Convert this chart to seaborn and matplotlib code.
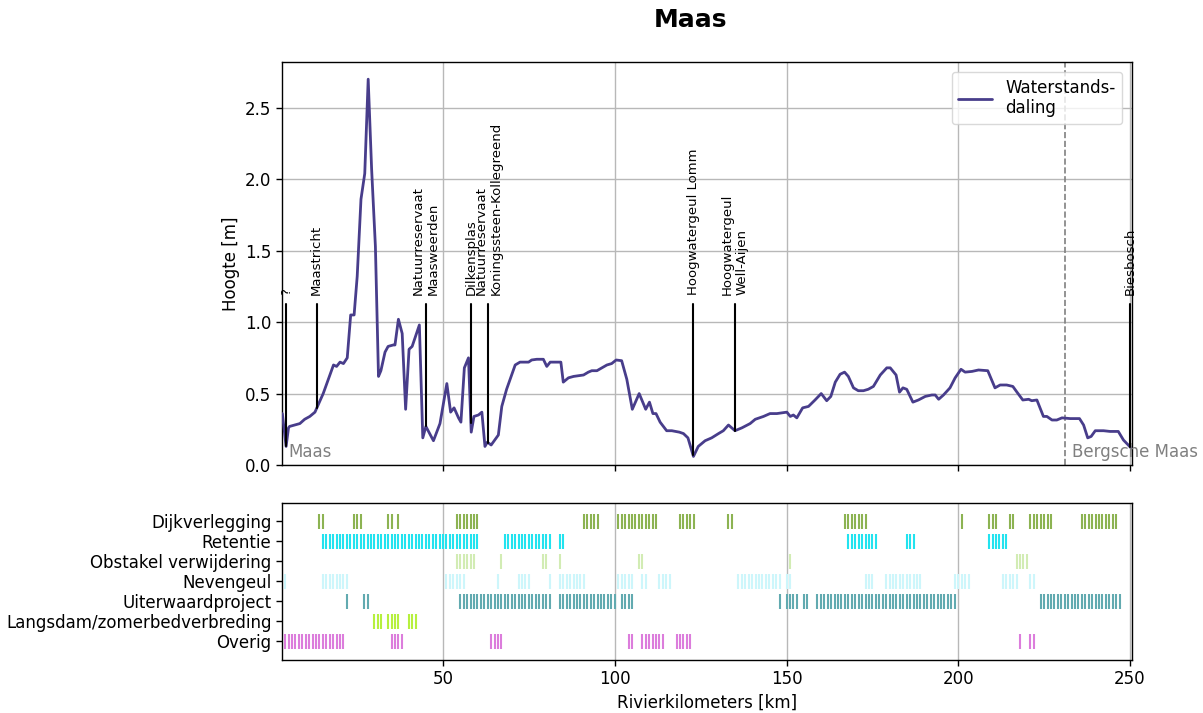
import numpy as np
import pandas as pd
import matplotlib
matplotlib.use("Agg")
import matplotlib.pyplot as plt
import seaborn as sns

# ---------------- data ----------------
river_km = [3.2, 4.3, 5.0, 5.3, 6.8, 8.3, 9.7, 11.2, 12.7, 15.1, 18.1, 19.0, 20.0, 21.0, 22.1,
            23.1, 24.1, 25.0, 26.1, 27.2, 28.2, 29.2, 30.3, 31.2, 31.9, 33.1, 34.0, 35.5, 36.0,
            37.0, 38.1, 39.1, 40.1, 41.0, 43.1, 44.1, 45.0, 47.2, 49.1, 51.1, 52.2, 53.2, 54.5,
            55.2, 56.2, 57.4, 58.2, 59.0, 60.3, 61.3, 62.2, 62.9, 64.0, 66.1, 67.1, 68.5, 71.0,
            72.4, 73.9, 74.9, 75.8, 77.3, 79.2, 80.2, 81.2, 84.3, 85.0, 86.5, 88.0, 90.9, 92.3,
            93.3, 94.8, 97.7, 99.1, 100.4, 102.0, 103.5, 105.1, 107.1, 109.0, 110.1, 111.1, 112.0,
            113.2, 115.1, 116.6, 118.8, 120.0, 121.3, 122.9, 124.3, 126.3, 128.2, 130.2, 131.6,
            133.1, 135.0, 137.0, 139.4, 140.9, 143.3, 145.2, 147.2, 150.1, 151.1, 152.0, 153.0,
            154.7, 156.4, 158.3, 160.1, 161.7, 162.9, 164.2, 165.6, 166.9, 168.0, 169.5, 170.9,
            172.4, 173.8, 175.3, 177.3, 179.2, 180.2, 181.9, 182.9, 183.9, 185.0, 186.8, 188.4,
            190.4, 192.3, 193.3, 194.3, 195.7, 197.6, 199.1, 200.8, 202.0, 204.0, 205.9, 208.6,
            209.3, 210.7, 212.2, 214.1, 215.9, 217.1, 218.8, 220.5, 221.4, 222.9, 224.8, 225.8,
            227.3, 228.7, 230.2, 232.6, 235.3, 236.5, 237.7, 238.7, 239.9, 242.3, 244.2, 246.6,
            248.1, 250.3]
water_drop = [0.36, 0.13, 0.26, 0.27, 0.28, 0.29, 0.32, 0.34, 0.37, 0.50, 0.70, 0.69, 0.72, 0.71, 0.75,
              1.05, 1.05, 1.32, 1.86, 2.04, 2.70, 2.07, 1.53, 0.62, 0.66, 0.79, 0.83, 0.84, 0.84,
              1.02, 0.92, 0.39, 0.81, 0.83, 0.98, 0.19, 0.27, 0.17, 0.29, 0.57, 0.37, 0.40, 0.33,
              0.30, 0.68, 0.75, 0.23, 0.34, 0.35, 0.37, 0.13, 0.16, 0.14, 0.21, 0.41, 0.53, 0.70,
              0.72, 0.72, 0.72, 0.735, 0.74, 0.74, 0.69, 0.72, 0.72, 0.58, 0.61, 0.62, 0.63, 0.65,
              0.66, 0.66, 0.70, 0.71, 0.735, 0.73, 0.60, 0.39, 0.50, 0.39, 0.44, 0.36, 0.36,
              0.30, 0.24, 0.24, 0.23, 0.22, 0.19, 0.06, 0.13, 0.17, 0.19, 0.22, 0.24,
              0.28, 0.24, 0.26, 0.29, 0.32, 0.34, 0.36, 0.36, 0.37, 0.34, 0.35, 0.33,
              0.40, 0.41, 0.455, 0.50, 0.45, 0.48, 0.58, 0.635, 0.65, 0.62, 0.54, 0.52,
              0.52, 0.53, 0.55, 0.63, 0.68, 0.68, 0.63, 0.51, 0.54, 0.53, 0.44, 0.455,
              0.48, 0.49, 0.49, 0.46, 0.49, 0.54, 0.61, 0.67, 0.65, 0.655, 0.665, 0.66,
              0.62, 0.54, 0.56, 0.56, 0.55, 0.51, 0.455, 0.46, 0.45, 0.455, 0.34, 0.34,
              0.315, 0.315, 0.33, 0.325, 0.325, 0.28, 0.19, 0.20, 0.24, 0.24, 0.235, 0.235,
              0.175, 0.12]

place_km = [4.3, 13.2, 45.0, 58.1, 63.2, 122.8, 135.0, 250.0]
place_names = ["?", "Maastricht", "Natuurreservaat\nMaasweerden", "Dilkensplas",
               "Natuurreservaat\nKoningssteen-Kollegreend", "Hoogwatergeul Lomm",
               "Hoogwatergeul\nWell-Aijen", "Biesbosch"]

measure_types = ["Dijkverlegging", "Retentie", "Obstakel verwijdering", "Nevengeul",
                 "Uiterwaardproject", "Langsdam/zomerbedverbreding", "Overig"]
measure_colors = ["#8cb352", "#22e3ef", "#d2ecb4", "#cdf6fb", "#62aab0", "#b6f03e", "#dc7ddc"]

# runs of river kilometres (first km, last km) per measure type
dijkverlegging_km = [(14, 15), (24, 26), (34, 35), (37, 37), (54, 60), (91, 95), (101, 112),
                     (119, 123), (133, 134), (167, 173), (201, 201), (209, 211), (215, 216),
                     (221, 227), (236, 246)]
retentie_km = [(15, 60), (68, 81), (84, 85), (168, 176), (185, 187), (209, 214)]
obstakel_km = [(54, 59), (67, 67), (79, 80), (84, 84), (107, 108), (151, 151), (217, 220)]
nevengeul_km = [(4, 4), (15, 22), (51, 56), (66, 66), (72, 75), (81, 81), (84, 91), (101, 105),
                (108, 109), (113, 116), (136, 148), (150, 151), (173, 175), (179, 189),
                (199, 203), (213, 217), (221, 222)]
uiterwaard_km = [(22, 22), (27, 28), (55, 81), (84, 100), (102, 105), (148, 148), (150, 153),
                 (155, 156), (159, 199), (224, 247)]
langsdam_km = [(30, 32), (34, 37), (40, 42)]
overig_km = [(4, 21), (35, 38), (64, 67), (104, 105), (108, 114), (118, 122), (218, 218),
             (221, 222)]
measure_runs = [dijkverlegging_km, retentie_km, obstakel_km, nevengeul_km, uiterwaard_km,
                langsdam_km, overig_km]

bergsche_start_km = 231.0

# ---------------- figure ----------------
sns.set_style("white")
plt.rcParams['font.family'] = ['DejaVu Sans']
plt.rcParams.update({"text.color": "black", "axes.labelcolor": "black",
                     "xtick.color": "black", "ytick.color": "black"})

fig = plt.figure(figsize=(12.03, 7.13), dpi=100)
ax1 = fig.add_axes([0.2344, 0.3478, 0.7066, 0.5652])
ax2 = fig.add_axes([0.2344, 0.0743, 0.7066, 0.2202], sharex=ax1)

for ax in (ax1, ax2):
    for s in ax.spines.values():
        s.set_color("black")
        s.set_linewidth(1.0)
    ax.tick_params(axis='both', which='both', direction='out', length=4, width=1,
                   color='black', labelcolor='black', labelsize=12, bottom=True, left=True)

# top panel
sns.lineplot(x=river_km, y=water_drop, ax=ax1, color="darkslateblue", linewidth=2,
             sort=False, label="Waterstands-\ndaling", zorder=3)
ax1.set_xlim(3.1, 250.6)
ax1.set_ylim(0, 2.82)
ax1.set_yticks([0.0, 0.5, 1.0, 1.5, 2.0, 2.5])
ax1.grid(True, color="#b8b8b8", linewidth=1.0)
ax1.set_axisbelow(True)
ax1.set_ylabel("Hoogte [m]", fontsize=12, color="black")
ax1.set_xlabel("")
plt.setp(ax1.get_xticklabels(), visible=False)

line_top = 1.13
for k, name in zip(place_km, place_names):
    y0 = float(np.interp(k, river_km, water_drop))
    ax1.plot([k, k], [y0, line_top], color="black", linewidth=1.5, zorder=4)
    ax1.text(k, line_top + 0.06, name, rotation=90, ha="center", va="bottom",
             fontsize=9.5, color="black", multialignment="left", clip_on=False, zorder=5)

ax1.axvline(bergsche_start_km, color="grey", linestyle="--", linewidth=1.2, zorder=2)
ax1.text(5.0, 0.03, "Maas", color="grey", fontsize=12, ha="left", va="bottom")
ax1.text(bergsche_start_km + 2.0, 0.03, "Bergsche Maas", color="grey", fontsize=12,
         ha="left", va="bottom", clip_on=False)

leg = ax1.legend(loc="upper right", fontsize=12, frameon=True, fancybox=True,
                 borderaxespad=0.6, handlelength=2.0)
leg.get_frame().set_edgecolor("#d0d0d0")
for t in leg.get_texts():
    t.set_color("black")

# bottom panel
rows = []
for name, runs in zip(measure_types, measure_runs):
    for a, b in runs:
        for k in range(a, b + 1):
            rows.append({"km": k, "type": name})
df = pd.DataFrame(rows)

sns.scatterplot(data=df, x="km", y="type", hue="type", hue_order=measure_types,
                palette=measure_colors, marker="|", s=117, linewidth=1.5,
                legend=False, ax=ax2, zorder=3)
ax2.set_ylim(6.95, -0.9)
ax2.set_yticks(range(len(measure_types)))
ax2.set_yticklabels(measure_types)
ax2.grid(True, axis="x", color="#b8b8b8", linewidth=1.0)
ax2.set_axisbelow(True)
ax2.set_xticks([50, 100, 150, 200, 250])
ax2.set_xlabel("Rivierkilometers [km]", fontsize=12, color="black")
ax2.set_ylabel("")

fig.text(690 / 1203, 1 - 20 / 713, "Maas", fontsize=18, fontweight="bold",
         color="black", ha="center", va="center")

fig.savefig("out.png", dpi=100)
